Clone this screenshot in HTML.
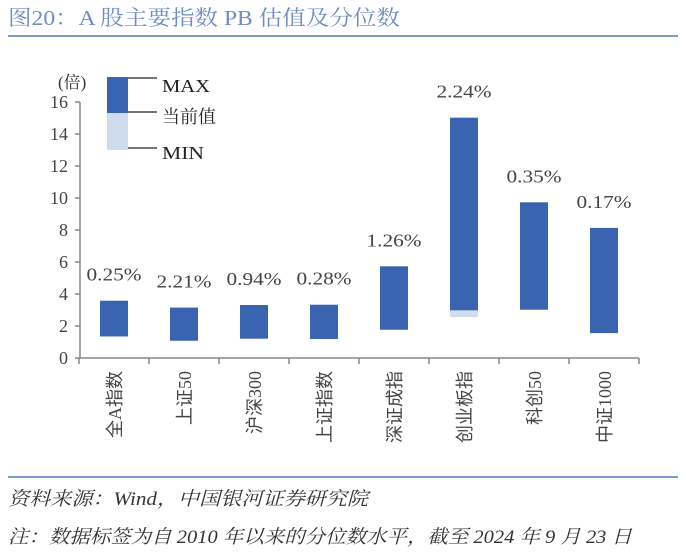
<!DOCTYPE html>
<html><head><meta charset="utf-8"><style>
body{margin:0;background:#fff;}
svg{display:block;}
</style></head><body>
<svg id="chart" width="686" height="559" xmlns="http://www.w3.org/2000/svg">
<text x="8" y="25" font-family="'Liberation Serif','Noto Serif CJK SC',serif" font-size="21" fill="#6f8cc4" textLength="392" lengthAdjust="spacingAndGlyphs">图20：A 股主要指数 PB 估值及分位数</text>
<line x1="8" y1="36" x2="678" y2="36" stroke="#7f9bcc" stroke-width="2"/>
<g id="plot"></g>
<line x1="8" y1="477" x2="678" y2="477" stroke="#7f9bcc" stroke-width="2"/>
<text x="8" y="505" font-family="'Liberation Serif','Noto Serif CJK SC',serif" font-size="19" font-style="italic" fill="#333" textLength="360" lengthAdjust="spacingAndGlyphs">资料来源：Wind，中国银河证券研究院</text>
<text x="8" y="543" font-family="'Liberation Serif','Noto Serif CJK SC',serif" font-size="19" font-style="italic" fill="#333" textLength="624" lengthAdjust="spacingAndGlyphs">注：数据标签为自 2010 年以来的分位数水平，截至 2024 年 9 月 23 日</text>
</svg>
<script>
const categories=["全A指数","上证50","沪深300","上证指数","深证成指","创业板指","科创50","中证1000"];
const maxVals=[3.58,3.15,3.31,3.33,5.73,15.02,9.73,8.13];
const curVals=[1.35,1.08,1.21,1.19,1.77,2.98,3.02,1.56];
const minVals=[1.33,1.06,1.19,1.17,1.75,2.56,3.0,1.54];
const pctLabels=["0.25%","2.21%","0.94%","0.28%","1.26%","2.24%","0.35%","0.17%"];
const yTicks=[0,2,4,6,8,10,12,14,16];

const NS="http://www.w3.org/2000/svg";
const g=document.getElementById('plot');
const FONT="'Liberation Serif','Noto Serif CJK SC',serif";
const x0=79,step=70,y0=358,pxPerUnit=16;
const yS=v=>y0-v*pxPerUnit;
const xC=i=>x0+step*(i+0.5);
function mk(tag,attrs,txt){const e=document.createElementNS(NS,tag);for(const k in attrs)e.setAttribute(k,attrs[k]);if(txt!==undefined)e.textContent=txt;g.appendChild(e);return e;}

let e=mk('line',{x1:80,y1:yS(16),x2:80,y2:y0,stroke:'#888','stroke-width':1.5});


e=mk('line',{x1:79,y1:y0,x2:x0+step*categories.length,y2:y0,stroke:'#888','stroke-width':1.5});


e=mk('text',{x:58,y:88,'font-family':FONT,'font-size':17,fill:'#333'},'(倍)');


yTicks.forEach(t=>{
  let l=mk('line',{x1:75,y1:yS(t),x2:80,y2:yS(t),stroke:'#888','stroke-width':1.5});
  
  
  let tx=mk('text',{x:68,y:yS(t)+6,'text-anchor':'end','font-family':FONT,'font-size':18,fill:'#444'},String(t));
  
  
});
for(let i=0;i<=categories.length;i++){
  let l=mk('line',{x1:x0+step*i,y1:y0,x2:x0+step*i,y2:y0+6,stroke:'#888','stroke-width':1.5});
  
  
}
categories.forEach((c,i)=>{
  const cx=xC(i),w=28;
  let lb=mk('rect',{x:cx-w/2,y:yS(curVals[i]),width:w,height:yS(minVals[i])-yS(curVals[i]),fill:'#cfdcf0'});
  
  
  let db=mk('rect',{x:cx-w/2,y:yS(maxVals[i]),width:w,height:yS(curVals[i])-yS(maxVals[i]),fill:'#3a63b0'});
  
  
  let pl=mk('text',{x:cx,y:yS(maxVals[i])-20,'text-anchor':'middle','font-family':FONT,'font-size':18,fill:'#444',textLength:55,lengthAdjust:'spacingAndGlyphs'},pctLabels[i]);
  
  
  let cl=mk('text',{x:0,y:0,'text-anchor':'end','font-family':"'Liberation Serif','Noto Sans CJK SC',sans-serif",'font-size':18,fill:'#444',transform:`translate(${cx+7},371) rotate(-90)`},c);
  
  
});
// legend
e=mk('rect',{x:107,y:77,width:21,height:36,fill:'#3a63b0'});


e=mk('rect',{x:107,y:113,width:21,height:37,fill:'#cfdcf0'});


[[78,'MAX',92,48],[112,'当前值',123,54],[148,'MIN',159,42]].forEach(([ly,t,ty,tl])=>{
  let l=mk('line',{x1:128,y1:ly,x2:157,y2:ly,stroke:'#222','stroke-width':1.2});
  
  
  let tx=mk('text',{x:162,y:ty,'font-family':"'Liberation Serif','Noto Serif CJK SC',serif",'font-size':18,fill:'#222',textLength:tl,lengthAdjust:'spacingAndGlyphs'},t);
  
  
});
</script>
</body></html>
